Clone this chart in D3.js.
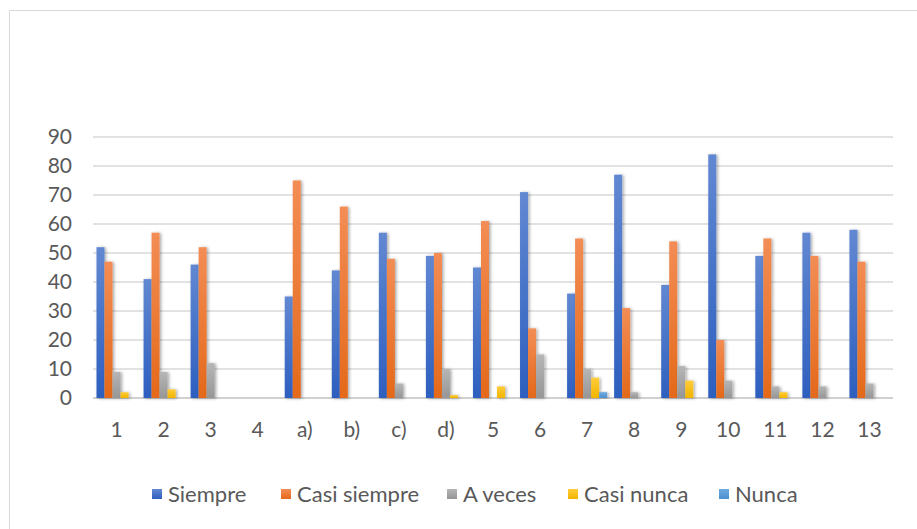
<!DOCTYPE html>
<html>
<head>
<meta charset="utf-8">
<script src="https://cdn.jsdelivr.net/npm/d3@7"></script>
<style>
  body { margin: 0; background: #fff; }
  svg { display: block; font-family: Lato, "Open Sans", sans-serif; }
</style>
</head>
<body>
<div id="vis"></div>
<script>
const WIDTH = 917;
const HEIGHT = 529;
const MARGINS = {left: 93, right: 24, top: 137, bottom: 131};

// data
const categories = ["1", "2", "3", "4", "a)", "b)", "c)", "d)", "5", "6", "7", "8", "9", "10", "11", "12", "13"];
const seriesNames = ["Siempre", "Casi siempre", "A veces", "Casi nunca", "Nunca"];
const siempre     = [52, 41, 46, 0, 35, 44, 57, 49, 45, 71, 36, 77, 39, 84, 49, 57, 58];
const casiSiempre = [47, 57, 52, 0, 75, 66, 48, 50, 61, 24, 55, 31, 54, 20, 55, 49, 47];
const aVeces      = [9, 9, 12, 0, 0, 0, 5, 10, 0, 15, 10, 2, 11, 6, 4, 4, 5];
const casiNunca   = [2, 3, 0, 0, 0, 0, 0, 1, 4, 0, 7, 0, 6, 0, 2, 0, 0];
const nunca       = [0, 0, 0, 0, 0, 0, 0, 0, 0, 0, 2, 0, 0, 0, 0, 0, 0];
const yTicks = [0, 10, 20, 30, 40, 50, 60, 70, 80, 90];

const allSeries = [siempre, casiSiempre, aVeces, casiNunca, nunca];
// top / bottom colours of each bar gradient
const colorsTop = ["#6288d2", "#f38d55", "#b6b6b6", "#ffcd3a", "#6eaae0"];
const colorsBot = ["#2d5fbf", "#e4691a", "#969696", "#f2b400", "#4d8fcf"];

const VIS_W = WIDTH - MARGINS.left - MARGINS.right;
const VIS_H = HEIGHT - MARGINS.top - MARGINS.bottom;

const svg = d3.select("#vis").append("svg")
    .attr("width", WIDTH)
    .attr("height", HEIGHT);

const defs = svg.append("defs");
seriesNames.forEach((s, i) => {
  const g = defs.append("linearGradient")
      .attr("id", "grad" + i)
      .attr("x1", 0).attr("y1", 0).attr("x2", 0).attr("y2", 1);
  g.append("stop").attr("offset", "0%").attr("stop-color", colorsTop[i]);
  g.append("stop").attr("offset", "100%").attr("stop-color", colorsBot[i]);
});
const shadow = defs.append("filter").attr("id", "shadow")
    .attr("x", "-50%").attr("y", "-10%").attr("width", "200%").attr("height", "120%");
shadow.append("feDropShadow")
    .attr("dx", 1.5).attr("dy", 0.5).attr("stdDeviation", 1.8)
    .attr("flood-color", "#000").attr("flood-opacity", 0.35);

// chart border (cut off at right and bottom)
svg.append("path")
    .attr("d", "M9.5," + (HEIGHT + 2) + " V10.5 H" + (WIDTH + 2))
    .attr("fill", "none")
    .attr("stroke", "#d9d9d9")
    .attr("stroke-width", 1);

const X = d3.scaleBand().domain(categories).range([0, VIS_W]).paddingInner(0).paddingOuter(0);
const X_IN = d3.scaleBand().domain(d3.range(seriesNames.length))
    .range([3.5, X.bandwidth() - 3.5]);
const Y = d3.scaleLinear().domain([0, 90]).range([VIS_H, 0]);

const plot = svg.append("g").attr("transform", `translate(${MARGINS.left},${MARGINS.top})`);

// gridlines
plot.append("g")
  .selectAll("line")
  .data(yTicks)
  .enter().append("line")
    .attr("x1", 0).attr("x2", VIS_W)
    .attr("y1", d => Y(d)).attr("y2", d => Y(d))
    .attr("stroke", d => d === 0 ? "#d0d0d0" : "#d9d9d9")
    .attr("stroke-width", d => d === 0 ? 2 : 1.5);

// y tick labels
const yAxis = plot.append("g")
    .call(d3.axisLeft(Y).tickValues(yTicks).tickSize(0).tickPadding(21));
yAxis.select(".domain").remove();
yAxis.selectAll("text")
    .attr("fill", "#595959")
    .attr("font-size", "21px")
    .attr("font-family", "Lato, sans-serif");

// x tick labels
const xAxis = plot.append("g")
    .attr("transform", `translate(0,${VIS_H})`)
    .call(d3.axisBottom(X).tickSize(0).tickPadding(24));
xAxis.select(".domain").remove();
xAxis.selectAll("text")
    .attr("fill", "#595959")
    .attr("font-size", "21px")
    .attr("font-family", "Lato, sans-serif");

// bars
allSeries.forEach((vals, si) => {
  plot.append("g")
    .attr("filter", "url(#shadow)")
    .selectAll("rect")
    .data(vals.map((v, i) => ({cat: categories[i], v: v})).filter(d => d.v > 0))
    .enter().append("rect")
      .attr("x", d => X(d.cat) + X_IN(si))
      .attr("y", d => Y(d.v))
      .attr("width", X_IN.bandwidth())
      .attr("height", d => VIS_H - Y(d.v))
      .attr("fill", "url(#grad" + si + ")");
});

// legend
const legendX = [152, 281, 447, 568, 719];
const legend = svg.append("g").attr("transform", "translate(0,494)");
seriesNames.forEach((s, i) => {
  const g = legend.append("g").attr("transform", `translate(${legendX[i]},0)`);
  g.append("rect")
      .attr("x", 0).attr("y", -5)
      .attr("width", 10).attr("height", 10)
      .attr("fill", "url(#grad" + i + ")");
  g.append("text")
      .attr("x", 16).attr("y", 0)
      .attr("dy", "0.35em")
      .attr("fill", "#595959")
      .attr("font-size", "22px")
      .text(s);
});
</script>
</body>
</html>
